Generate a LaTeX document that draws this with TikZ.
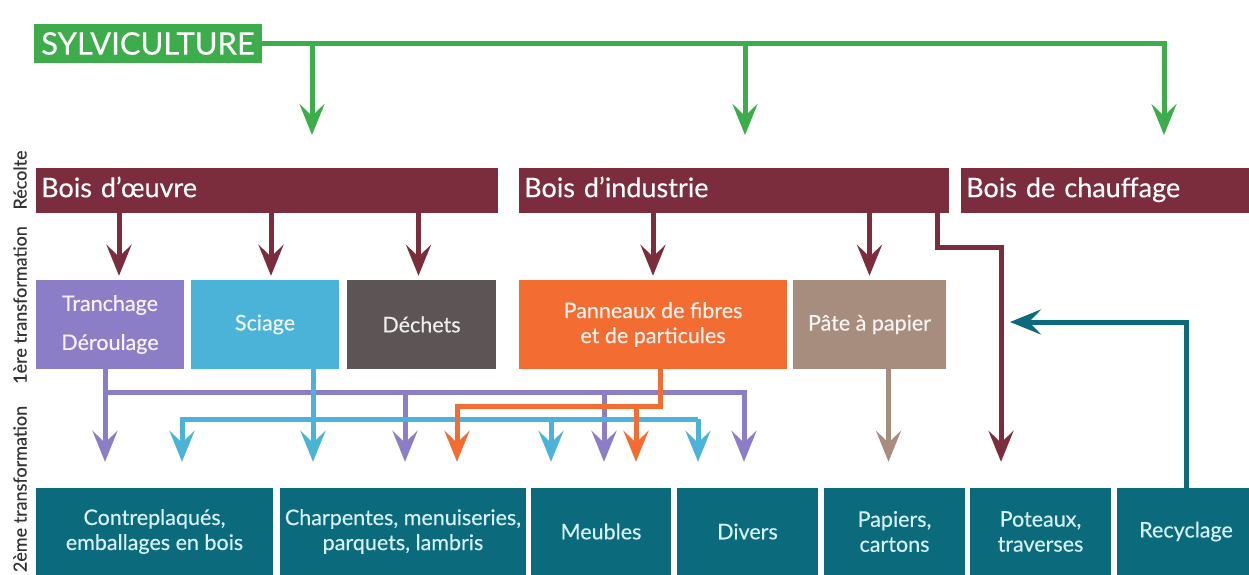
\documentclass[tikz,border=0pt]{standalone}
\usepackage{fontspec}
\setmainfont{Lato}[FakeBold=0.3]
\usetikzlibrary{arrows.meta,calc}

\definecolor{sylgreen}{HTML}{3DAC4A}
\definecolor{woodred}{HTML}{7B2D3D}
\definecolor{lilac}{HTML}{8B7DC6}
\definecolor{sky}{HTML}{4CB3D8}
\definecolor{ash}{HTML}{5C5455}
\definecolor{flame}{HTML}{F36C31}
\definecolor{pulp}{HTML}{A68D7E}
\definecolor{petrol}{HTML}{0B6B7C}
\definecolor{pale}{HTML}{D5F1F5}

\tikzset{
  vtip/.tip={Stealth[length=31pt,width=25pt,inset=12pt]},
  down/.style={line width=5pt,-vtip,shorten >=#1},
  down/.default=4pt,
  stage/.style={rotate=90,text=black!80,font=\fontsize{18}{21}\selectfont},
  harvest/.style={anchor=north west,fill=woodred,text=white,inner xsep=5pt,inner ysep=0pt,
    minimum height=45pt,align=left,text height=19pt,text depth=6pt,font=\fontsize{27}{30}\selectfont},
  first/.style={inner sep=0pt,minimum height=89pt,align=center,text=white,text opacity=0.9,
    font=\fontsize{21.5}{25}\selectfont},
  second/.style={fill=petrol,inner sep=0pt,minimum height=87pt,align=center,text=pale,
    font=\fontsize{21.5}{25}\selectfont}
}

\begin{document}
\begin{tikzpicture}[x=1pt,y=-1pt]
\useasboundingbox (0,0) rectangle (1249,575);
% stages
\node[stage] (lrec) at (20,180) {Récolte};
\node[stage] (lone) at (20,305) {1ère transformation};
\node[stage] (ltwo) at (20,489) {2ème transformation};
% forest
\node[fill=sylgreen,text=white,inner sep=0pt,minimum width=228pt,minimum height=39pt,
  font=\fontsize{31}{34}\selectfont] (syl) at (148,43.5) {SYLVICULTURE};
% harvest
\node[harvest,text width=452pt] (oeuvre) at (36,168) {Bois d’œuvre};
\node[harvest,text width=420pt] (indus) at (519,168) {Bois d’industrie};
\node[harvest,text width=284pt] (chauf) at (961,168) {Bois de chauffage};
% first transformation
\node[first,fill=lilac,minimum width=148pt] (tranch) at (110,324.5) {Tranchage\\[14pt]Déroulage};
\node[first,fill=sky,minimum width=148pt] (sciage) at (265,324.5) {Sciage};
\node[first,fill=ash,minimum width=149pt] (dechets) at (421.5,324.5) {Déchets};
\node[first,fill=flame,minimum width=268pt] (pann) at (653,324.5) {Panneaux de fibres\\et de particules};
\node[first,fill=pulp,minimum width=153pt] (pate) at (869.5,324.5) {Pâte à papier};
% second transformation
\node[second,minimum width=237pt] (cp) at (154.5,531.5) {Contreplaqués,\\emballages en bois};
\node[second,minimum width=246pt] (ch) at (403,531.5) {Charpentes, menuiseries,\\parquets, lambris};
\node[second,minimum width=140pt] (me) at (601,531.5) {Meubles};
\node[second,minimum width=141pt] (di) at (747.5,531.5) {Divers};
\node[second,minimum width=141pt] (pa) at (894.5,531.5) {Papiers,\\cartons};
\node[second,minimum width=141pt] (po) at (1040.5,531.5) {Poteaux,\\traverses};
\node[second,minimum width=138pt] (re) at (1186,531.5) {Recyclage};

% green arrows
\coordinate (g1) at (312,43.5);
\coordinate (g2) at (745,43.5);
\coordinate (g3) at (1164,43.5);
\draw[down=33pt,sylgreen] (syl.east) -- (g3) -- (g3 |- chauf.north);
\draw[down=33pt,sylgreen] (g1) -- (g1 |- oeuvre.north);
\draw[down=33pt,sylgreen] (g2) -- (g2 |- indus.north);

% harvest to first transformation
\coordinate (a1) at ($(tranch.north)+(9,0)$);
\coordinate (a2) at ($(sciage.north)+(6,0)$);
\coordinate (a3) at ($(dechets.north)+(-3,0)$);
\draw[down,woodred] (oeuvre.south -| a1) -- (a1);
\draw[down,woodred] (oeuvre.south -| a2) -- (a2);
\draw[down,woodred] (oeuvre.south -| a3) -- (a3);
\draw[down,woodred] (indus.south -| pann) -- (pann.north);
\draw[down,woodred] (indus.south -| pate) -- (pate.north);
\coordinate (m1) at ($(indus.south east)+(-12,0)$);
\coordinate (m2) at (1001,247);
\draw[down=26pt,woodred] (m1) |- (m2) -- (m2 |- po.north);

% purple
\coordinate (p0) at (105,392);
\coordinate (p1) at (405,392);
\coordinate (p2) at (604,392);
\coordinate (p3) at (744,392);
\draw[down=26pt,lilac] (p0 |- tranch.south) -- (p0 |- cp.north);
\draw[down=26pt,lilac] (p0) -- (p3) -- (p3 |- di.north);
\draw[down=26pt,lilac] (p1) -- (p1 |- ch.north);
\draw[down=26pt,lilac] (p2) -- (p2 |- me.north);

% blue
\coordinate (s0) at (182,419);
\coordinate (s1) at (313,419);
\coordinate (s2) at (551,419);
\coordinate (s3) at (698,419);
\draw[down=26pt,sky] (s1 |- sciage.south) -- (s1 |- ch.north);
\draw[down=26pt,sky] (s3) -- (s0) -- (s0 |- cp.north);
\draw[down=26pt,sky] (s2) -- (s2 |- me.north);
\draw[down=26pt,sky] (s3) -- (s3 |- di.north);

% orange
\coordinate (o0) at (660,406);
\coordinate (o1) at (457,406);
\coordinate (o2) at (636,406);
\draw[down=26pt,flame] (o0 |- pann.south) -- (o0) -- (o1) -- (o1 |- ch.north);
\draw[down=26pt,flame] (o2) -- (o2 |- me.north);

% pulp
\coordinate (b0) at ($(pate.south)+(19,0)$);
\draw[down=26pt,pulp] (b0) -- (b0 |- pa.north);

% recycling
\coordinate (r0) at (1010,322);
\draw[down=0pt,petrol] (re.north) |- (r0);
\end{tikzpicture}
\end{document}
